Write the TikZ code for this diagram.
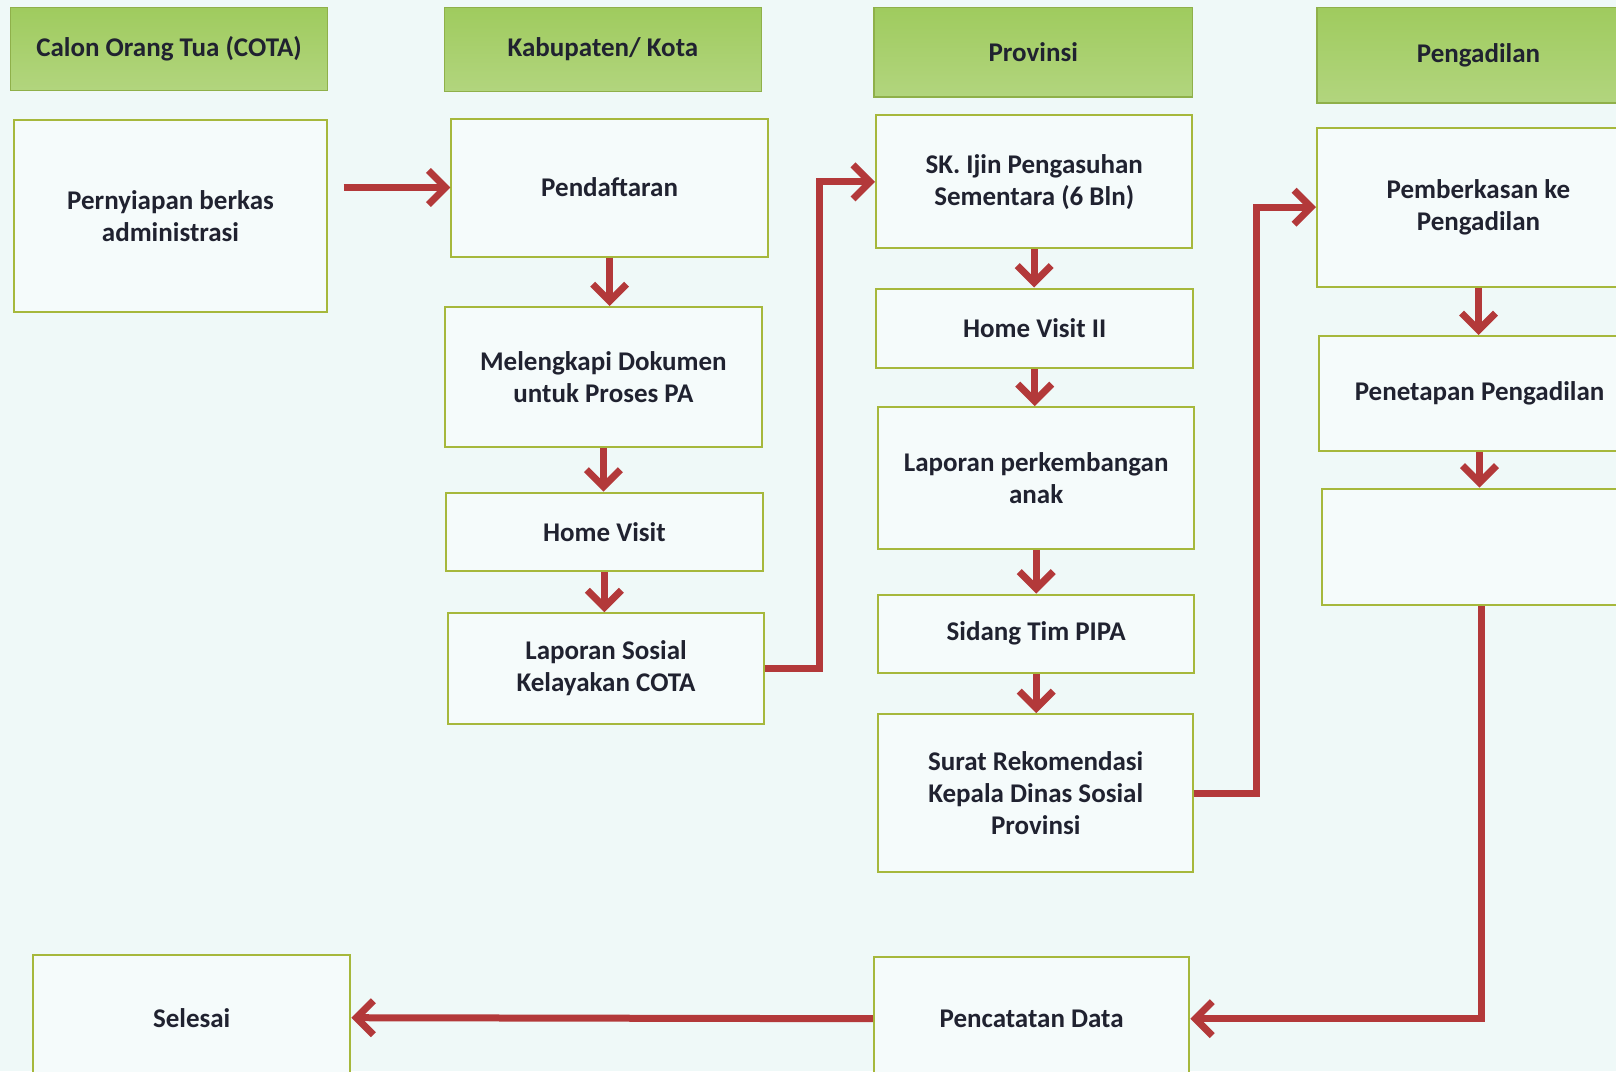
\documentclass[tikz,border=0pt]{standalone}
\usepackage{fontspec}
\setmainfont{Carlito}
\usetikzlibrary{arrows.meta}

\definecolor{bgcol}{HTML}{EFF9F8}
\definecolor{hdrtop}{HTML}{9FCB5E}
\definecolor{hdrbot}{HTML}{B2D57E}
\definecolor{hdrline}{HTML}{8FB04A}
\definecolor{boxline}{HTML}{A6B83C}
\definecolor{arrowred}{HTML}{B3393A}
\definecolor{txtcol}{HTML}{202230}

\tikzset{every picture/.style={line width=0.75pt}}
\tikzset{
  hdr/.style={draw=hdrline, line width=0.6pt, top color=hdrtop, bottom color=hdrbot,
    text=txtcol, font=\bfseries\fontsize{13.5}{16}\selectfont, align=center, inner sep=0pt},
  stepbox/.style={draw=boxline, line width=1pt, fill=bgcol!60!white, text=txtcol,
    font=\bfseries\fontsize{13.5}{16}\selectfont, align=center, inner sep=0pt},
  flow/.style={draw=arrowred, line width=3.5pt, -{Straight Barb[length=8.5pt,width=17pt]}},
}

\begin{document}
\begin{tikzpicture}[x=0.5pt,y=0.5pt,yscale=-1,xscale=1]
    %set diagram from (0,0) to (1616,1071)
    \fill [bgcol] (0,0) rectangle (1616,1071);
    \useasboundingbox (0,0) rectangle (1616,1071);

    %Headers
    \node [hdr, minimum width=158.7pt, minimum height=41.8pt] (hcota) at (169,49) {Calon Orang Tua (COTA)};
    \node [hdr, minimum width=158.7pt, minimum height=42.2pt] (hkab) at (602.9,49.5) {Kabupaten/ Kota};
    \node [hdr, minimum width=159.2pt, minimum height=44.9pt] (hprov) at (1033.2,52) {Provinsi};
    \node [hdr, minimum width=161.5pt, minimum height=47.9pt] (hpeng) at (1478.5,55.1) {Pengadilan};

    %Column COTA
    \node [stepbox, minimum width=156.2pt, minimum height=96.4pt] (berkas) at (170.5,215.9) {Pernyiapan berkas\\administrasi};
    \node [stepbox, minimum width=158.7pt, minimum height=62.3pt] (selesai) at (191.7,1017.7) {Selesai};

    %Column Kabupaten/ Kota
    \node [stepbox, minimum width=158.2pt, minimum height=69pt] (daftar) at (609.6,187.5) {Pendaftaran};
    \node [stepbox, minimum width=158.2pt, minimum height=70.1pt] (dokumen) at (603.4,377.2) {Melengkapi Dokumen\\untuk Proses PA};
    \node [stepbox, minimum width=158.2pt, minimum height=39.2pt] (visit) at (604.4,531.8) {Home Visit};
    \node [stepbox, minimum width=157.7pt, minimum height=55.2pt] (lapsos) at (606,668.4) {Laporan Sosial\\Kelayakan COTA};

    %Column Provinsi
    \node [stepbox, minimum width=158.2pt, minimum height=66.5pt] (sk) at (1034.2,181.9) {SK. Ijin Pengasuhan\\Sementara (6 Bln)};
    \node [stepbox, minimum width=158.7pt, minimum height=39.7pt] (visitb) at (1034.7,328.2) {Home Visit II};
    \node [stepbox, minimum width=158.2pt, minimum height=71.1pt] (lapanak) at (1036.2,478.2) {Laporan perkembangan\\anak};
    \node [stepbox, minimum width=158.2pt, minimum height=39.2pt] (sidang) at (1036.2,633.8) {Sidang Tim PIPA};
    \node [stepbox, minimum width=157.7pt, minimum height=78.9pt] (surat) at (1035.7,793) {Surat Rekomendasi\\Kepala Dinas Sosial\\Provinsi};
    \node [stepbox, minimum width=157.7pt, minimum height=61.3pt] (catat) at (1031.6,1018.7) {Pencatatan Data};

    %Column Pengadilan
    \node [stepbox, minimum width=161.5pt, minimum height=79.4pt] (pemberkasan) at (1478.5,207.2) {Pemberkasan ke\\Pengadilan};
    \node [stepbox, minimum width=160.5pt, minimum height=57.7pt] (penetapan) at (1479.5,393.7) {Penetapan Pengadilan};
    \node [stepbox, minimum width=159pt, minimum height=58.2pt] (kosong) at (1481,546.8) {};

    %Connectors
    \draw [flow, shorten <=8] (berkas.east |- daftar.west) -- (daftar.west);
    \draw [flow] (daftar.south) -- (daftar.south |- dokumen.north);
    \draw [flow] (dokumen.south) -- (dokumen.south |- visit.north);
    \draw [flow] (visit.south) -- (visit.south |- lapsos.north);
    \draw [flow] (lapsos.east) -- ++(55,0) |- (sk.west);
    \draw [flow] (sk.south) -- (sk.south |- visitb.north);
    \draw [flow] (visitb.south) -- (visitb.south |- lapanak.north);
    \draw [flow] (lapanak.south) -- (lapanak.south |- sidang.north);
    \draw [flow] (sidang.south) -- (sidang.south |- surat.north);
    \draw [flow] (surat.east) -- ++(62,0) |- (pemberkasan.west);
    \draw [flow] (pemberkasan.south) -- (pemberkasan.south |- penetapan.north);
    \draw [flow] (penetapan.south) -- (penetapan.south |- kosong.north);
    \draw [flow] (kosong.south) |- (catat.east);
    \draw [flow] (catat.west) -- (selesai.east);

\end{tikzpicture}
\end{document}
